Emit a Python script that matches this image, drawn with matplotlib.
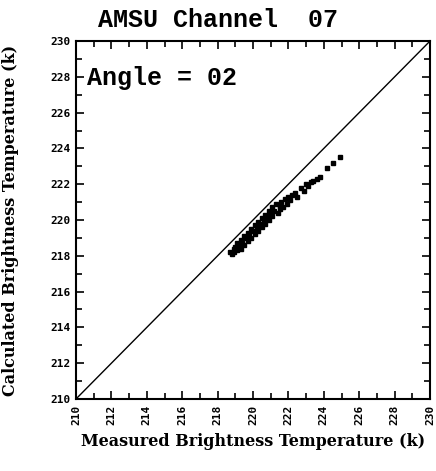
import numpy as np
import matplotlib.pyplot as plt
from matplotlib.ticker import MultipleLocator

# measured vs calculated brightness temperature (K)
measured = [218.7, 218.8, 218.9, 218.9, 219.0, 219.1, 219.1, 219.2, 219.3, 219.3,
            219.4, 219.5, 219.5, 219.6, 219.7, 219.7, 219.8, 219.9, 219.9, 220.0,
            220.1, 220.1, 220.2, 220.3, 220.3, 220.4, 220.5, 220.5, 220.6, 220.7,
            220.7, 220.8, 220.9, 220.9, 221.0, 221.1, 221.1, 221.2, 221.3, 221.4,
            221.5, 221.5, 221.6, 221.7, 221.8, 221.9, 222.0, 222.1, 222.2, 222.4,
            222.5, 222.7, 222.9, 223.0, 223.1, 223.3, 223.4, 223.6, 223.8, 224.2,
            224.5, 224.9]
calculated = [218.2, 218.1, 218.4, 218.2, 218.5, 218.3, 218.7, 218.6, 218.4, 218.9,
              218.7, 219.1, 218.6, 219.0, 219.3, 218.8, 219.2, 219.5, 219.0, 219.4,
              219.7, 219.2, 219.6, 219.9, 219.4, 219.8, 220.1, 219.6, 220.0, 220.3,
              219.8, 220.2, 220.5, 220.0, 220.3, 220.7, 220.2, 220.5, 220.9, 220.4,
              220.8, 220.6, 221.0, 220.7, 221.2, 220.9, 221.3, 221.1, 221.4, 221.5,
              221.3, 221.8, 221.6, 222.0, 221.9, 222.1, 222.2, 222.3, 222.4, 222.9,
              223.2, 223.5]
lo, hi = 210, 230
tick_vals = np.arange(lo, hi + 1, 2)

fig = plt.figure(figsize=(4.36, 4.71), dpi=100)
ax = fig.add_axes([0.1743, 0.1529, 0.812, 0.760])

ax.plot([lo, hi], [lo, hi], color="black", linewidth=1.0)
ax.plot(measured, calculated, linestyle="none", marker="s", markersize=2.3,
        color="black")

ax.set_xlim(lo, hi)
ax.set_ylim(lo, hi)
ax.set_xticks(tick_vals)
ax.set_yticks(tick_vals)
ax.set_xticklabels([str(v) for v in tick_vals], rotation=90,
                   fontsize=8, fontweight="bold", family="DejaVu Sans Mono")
ax.set_yticklabels([str(v) for v in tick_vals],
                   fontsize=8, fontweight="bold", family="DejaVu Sans Mono")
ax.xaxis.set_minor_locator(MultipleLocator(1))
ax.yaxis.set_minor_locator(MultipleLocator(1))
ax.tick_params(which="both", direction="in", top=True, right=True, width=1.2)
ax.tick_params(which="major", length=6, pad=4)
ax.tick_params(which="minor", length=4)
for s in ax.spines.values():
    s.set_linewidth(1.5)

ax.set_xlabel("Measured Brightness Temperature (k)", fontsize=11.5,
              fontweight="bold", family="DejaVu Serif", labelpad=6)
ax.set_ylabel("Calculated Brightness Temperature (k)", fontsize=11.5,
              fontweight="bold", family="DejaVu Serif")
ax.yaxis.set_label_coords(-0.16, 0.5)
fig.text(0.5, 0.958, "AMSU Channel  07", fontsize=18, fontweight="bold",
         family="Liberation Mono", ha="center", va="center")
ax.text(0.03, 0.93, "Angle = 02", transform=ax.transAxes, fontsize=18,
        fontweight="bold", family="Liberation Mono", va="top", ha="left")

fig.savefig("out.png", dpi=100)
